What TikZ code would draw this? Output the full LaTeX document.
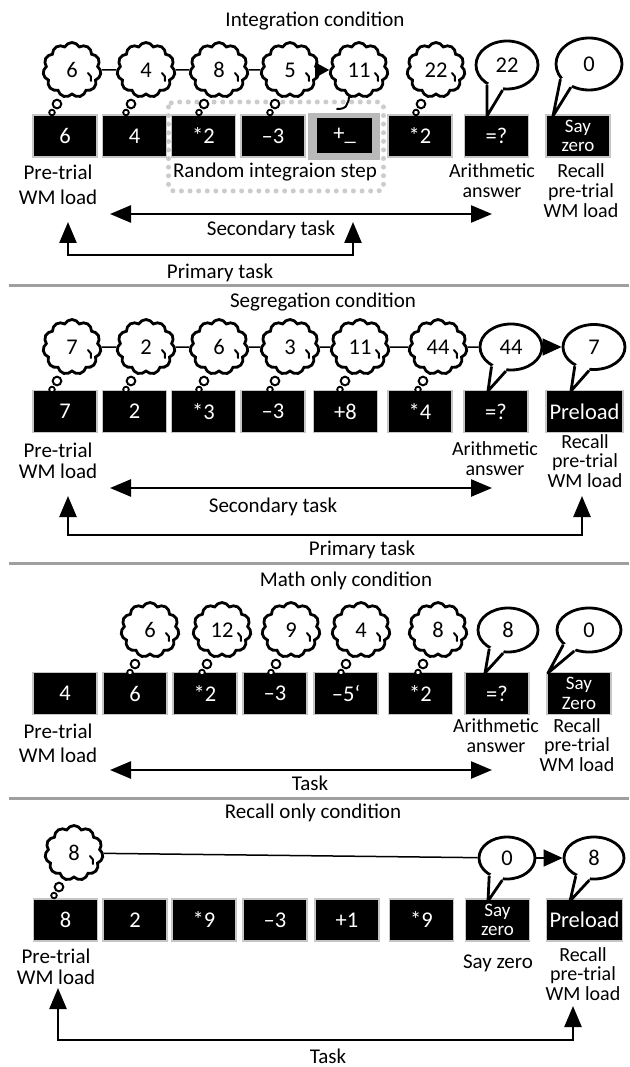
\documentclass[tikz,border=0pt]{standalone}
\usepackage{fontspec}
\setmainfont{Carlito}
\usetikzlibrary{shapes.symbols,shapes.geometric,arrows.meta,calc}
\newcommand\fs[1]{\fontsize{21}{#1}\selectfont}
\newcommand\fr[1]{\fontsize{20}{#1}\selectfont}
\newcommand\fb[1]{\fontsize{22.5}{#1}\selectfont}
\newcommand\mythink[4]{%
  \node[think] (#1) at (#2,#3) {#4};
  \draw[line width=2pt, fill=white] (#2-15,#3+34) circle (4.3);
  \draw[line width=1.8pt, fill=white] (#2-20,#3+42.5) circle (2.8);
  \draw[curl] (#2+16,#3+3) to[bend left=35] (#2+19,#3+11);
}
\newcommand\mytalk[9]{%
  \node[talk,#9] (#1) at (#2,#3) {#4};
  \coordinate (#1t) at (#5,#6);
  \fill[white] (#1.#7) -- (#1t) -- (#1.#8) -- ($(#1.center)!0.6!(#1.#8)$) -- ($(#1.center)!0.6!(#1.#7)$) -- cycle;
  \draw[tail] (#1.#7) -- (#1t) -- (#1.#8);
}
\begin{document}
\begin{tikzpicture}[x=1pt,y=-1pt,
  font=\fs{21},
  box/.style={rectangle, fill=black, draw=gray!45, line width=1.6pt, minimum width=64pt, minimum height=42pt, inner sep=0pt, text=white, align=center, font=\fb{17}},
  two/.style={font=\fontsize{19}{19.5}\selectfont},
  think/.style={cloud, cloud puffs=11, cloud puff arc=125, cloud ignores aspect, minimum width=58pt, minimum height=55pt, draw, line width=2.8pt, fill=white, inner sep=0pt, font=\fb{20}},
  talk/.style={ellipse, draw, line width=2.8pt, fill=white, minimum width=62pt, minimum height=48pt, inner sep=0pt, font=\fb{20}},
  tail/.style={line width=2.8pt, line join=round},
  curl/.style={line width=2pt, line cap=round},
  lbl/.style={align=center, inner sep=0pt, anchor=base},
  conn/.style={line width=1.5pt},
  big/.style={line width=2.5pt, line join=miter},
  dtip/.style={{Triangle[length=21pt,width=17pt]}-{Triangle[length=21pt,width=17pt]}},
  smalltip/.style={-{Triangle[length=19pt,width=17pt]}},
  sep/.style={line width=3pt, draw=gray!75},
]
\fill[white] (0,0) rectangle (629,1067);
\useasboundingbox (0,0) rectangle (629,1067);

% ================= Integration condition =================
\node[lbl] (ititle) at (315,27) {Integration condition};
\draw[gray!40, line width=5pt, line cap=round, dash pattern=on 0pt off 8.6pt, rounded corners=5pt] (168.5,102) rectangle (383.5,191);
\node[fill=gray!55, minimum width=72pt, minimum height=47pt, inner sep=0pt] (ihl) at (344,136.5) {};
\node[box] (i1) at (65,136) {6};
\node[box] (i2) at (134.5,136) {4};
\node[box] (i3) at (203.5,136) {*2};
\node[box] (i4) at (273,136) {–3};
\node[box, draw=none, minimum width=55pt, minimum height=35pt] (i5) at (344.5,135.5) {+\_};
\node[box] (i6) at (420,136) {*2};
\node[box] (i7) at (496.5,136) {=?};
\node[box, two] (i8) at (578,136) {Say\\zero};

\mythink{ic1}{72}{70}{6}
\mythink{ic2}{146}{70}{4}
\mythink{ic3}{219}{70}{8}
\mythink{ic4}{290}{70}{5}
\node[think] (ic5) at (359,70) {11};
\draw[curl] (359+16,73) to[bend left=35] (359+19,81);
\draw[curl] (349,97) to[out=-70,in=80] (347,104) to[out=-100,in=0] (337,109);
\mythink{ic6}{436}{70}{22}
\mytalk{ib1}{507}{65}{22}{487}{116}{-135}{-100}{}
\mytalk{ib2}{589}{64}{0}{553}{116}{-152}{-128}{minimum width=66pt, minimum height=52pt}
\draw[conn] (ic1) -- (ic2);
\draw[conn] (ic2) -- (ic3);
\draw[conn] (ic3) -- (ic4);
\draw[conn, -{Triangle[length=14pt,width=15pt]}] (ic4) -- (ic5);

\node[lbl, font=\fs{25}] (il1) at (58,205) {Pre-trial\\WM load};
\node[lbl] (il2) at (275,178) {Random integraion step};
\node[lbl, font=\fr{20}] (il3) at (492,198) {Arithmetic\\answer};
\node[lbl, font=\fr{20}] (il4) at (581,218) {Recall\\pre-trial\\WM load};

\coordinate (iSL) at (110,214); \coordinate (iSR) at (492,214);
\draw[big, dtip] (iSL) -- (iSR);
\node[lbl] (isec) at (271,236) {Secondary task};
\coordinate (iPL) at (68,222); \coordinate (iPR) at (353,222); \coordinate (iPB) at (0,255);
\draw[big, dtip] (iPL) -- (iPL |- iPB) -- (iPR |- iPB) -- (iPR);
\node[lbl] (iprim) at (220,278) {Primary task};

\coordinate (sepA1) at (9,285); \coordinate (sepA2) at (629,285);
\draw[sep] (sepA1) -- (sepA2);

% ================= Segregation condition =================
\node[lbl] (stitle) at (323,307) {Segregation condition};
\node[box] (s1) at (65,411.5) {7};
\node[box] (s2) at (134.5,411.5) {2};
\node[box] (s3) at (203.5,411.5) {*3};
\node[box] (s4) at (273,411.5) {–3};
\node[box] (s5) at (345.5,411.5) {+8};
\node[box] (s6) at (420,411.5) {*4};
\node[box] (s7) at (496,411.5) {=?};
\node[box, minimum width=77pt] (s8) at (584.5,411.5) {Preload};

\mythink{sc1}{72}{347}{7}
\mythink{sc2}{146}{347}{2}
\mythink{sc3}{219}{347}{6}
\mythink{sc4}{290}{347}{3}
\mythink{sc5}{360}{347}{11}
\mythink{sc6}{438}{347}{44}
\mytalk{sb1}{511}{347}{44}{488}{391}{-135}{-102}{minimum height=46pt}
\mytalk{sb2}{594}{347}{7}{571}{391}{-135}{-102}{minimum height=45pt}
\draw[conn] (sc1) -- (sc2);
\draw[conn] (sc2) -- (sc3);
\draw[conn] (sc3) -- (sc4);
\draw[conn] (sc4) -- (sc5);
\draw[conn] (sc5) -- (sc6);
\draw[conn] (sc6) -- (sb1);
\draw[conn, smalltip] (sb1) -- (sb2);

\node[lbl, font=\fs{21}] (sl1) at (58,478) {Pre-trial\\WM load};
\node[lbl, font=\fr{20}] (sl3) at (495,475) {Arithmetic\\answer};
\node[lbl, font=\fr{19.5}] (sl4) at (585,487) {Recall\\pre-trial\\WM load};

\coordinate (sSL) at (110,488); \coordinate (sSR) at (492,488);
\draw[big, dtip] (sSL) -- (sSR);
\node[lbl] (ssec) at (273,512) {Secondary task};
\coordinate (sPL) at (68,496); \coordinate (sPR) at (582,496); \coordinate (sPB) at (0,535);
\draw[big, dtip] (sPL) -- (sPL |- sPB) -- (sPR |- sPB) -- (sPR);
\node[lbl] (sprim) at (362,555) {Primary task};

\coordinate (sepB1) at (9,563); \coordinate (sepB2) at (629,563);
\draw[sep] (sepB1) -- (sepB2);

% ================= Math only condition =================
\node[lbl] (mtitle) at (346,586) {Math only condition};
\node[box] (m1) at (65,693.5) {4};
\node[box] (m2) at (135,693.5) {6};
\node[box] (m3) at (205,693.5) {*2};
\node[box] (m4) at (275,693.5) {–3};
\node[box] (m5) at (346,693.5) {–5`};
\node[box] (m6) at (420.5,693.5) {*2};
\node[box] (m7) at (497,693.5) {=?};
\node[box, two] (m8) at (579,693.5) {Say\\Zero};

\mythink{mc1}{150}{630}{6}
\mythink{mc2}{222}{630}{12}
\mythink{mc3}{291}{630}{9}
\mythink{mc4}{361}{630}{4}
\mythink{mc5}{438}{630}{8}
\mytalk{mb1}{508}{630}{8}{485}{673}{-135}{-102}{minimum height=44pt, minimum width=60pt}
\mytalk{mb2}{589}{630}{0}{548}{673}{-150}{-125}{minimum height=44pt, minimum width=64pt}

\node[lbl, font=\fs{24}] (ml1) at (58,762) {Pre-trial\\WM load};
\node[lbl, font=\fr{20}] (ml3) at (496,752) {Arithmetic\\answer};
\node[lbl, font=\fr{19.5}] (ml4) at (577,771) {Recall\\pre-trial\\WM load};

\coordinate (mSL) at (110,770); \coordinate (mSR) at (492,770);
\draw[big, dtip] (mSL) -- (mSR);
\node[lbl] (mtask) at (310,790) {Task};

\coordinate (sepC1) at (9,798); \coordinate (sepC2) at (629,798);
\draw[sep] (sepC1) -- (sepC2);

% ================= Recall only condition =================
\node[lbl] (rtitle) at (313,818) {Recall only condition};
\node[box] (r1) at (65.5,920) {8};
\node[box] (r2) at (135,920) {2};
\node[box] (r3) at (204,920) {*9};
\node[box] (r4) at (275,920) {–3};
\node[box] (r5) at (347,920) {+1};
\node[box] (r6) at (421.5,920) {*9};
\node[box, two] (r7) at (497.5,920) {Say\\zero};
\node[box, minimum width=76pt] (r8) at (584.5,920) {Preload};

\mythink{rc}{74}{853}{8}
\mytalk{rb}{507}{858}{0}{488}{901}{-135}{-102}{minimum height=42pt, minimum width=56pt}
\mytalk{rp}{594}{858}{8}{570}{901}{-135}{-102}{minimum height=42pt, minimum width=60pt}
\draw[conn] (rc) -- (rb);
\draw[conn, smalltip] (rb) -- (rp);

\node[lbl, font=\fs{21}] (rl1) at (56,984) {Pre-trial\\WM load};
\node[lbl] (rl3) at (498,968) {Say zero};
\node[lbl, font=\fr{19.5}] (rl4) at (583,1000) {Recall\\pre-trial\\WM load};

\coordinate (rPL) at (58,988); \coordinate (rPR) at (573,1006); \coordinate (rPB) at (0,1040);
\draw[big, dtip] (rPL) -- (rPL |- rPB) -- (rPR |- rPB) -- (rPR);
\node[lbl] (rtask) at (328,1063) {Task};
\end{tikzpicture}
\end{document}
